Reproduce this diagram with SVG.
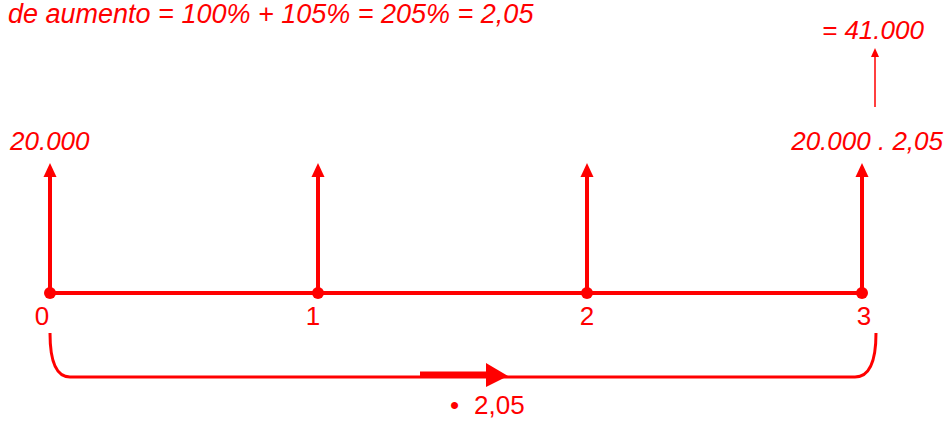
<svg xmlns="http://www.w3.org/2000/svg" width="945" height="421" viewBox="0 0 945 421">
<style>
.t{font-family:"Liberation Sans",Arial,sans-serif;font-size:26px;fill:#ff0000}
.i{font-style:italic}
.ln{stroke:#ff0000;stroke-width:4;fill:none}
.thin{stroke:#ff0000;stroke-width:1.5;fill:none}
.hd{fill:#ff0000}
</style>
<rect width="945" height="421" fill="#ffffff"/>
<g id="title"><text class="t i" x="8" y="23" style="font-size:27px">de aumento = 100% + 105% = 205% = 2,05</text></g>
<g id="connectors">
<line class="ln" x1="50" y1="293" x2="862" y2="293"/>
<line class="ln" x1="50" y1="293" x2="50" y2="174"/>
<polygon class="hd" points="50,163 43.5,177 56.5,177"/>
<line class="ln" x1="318" y1="293" x2="318" y2="174"/>
<polygon class="hd" points="318,163 311.5,177 324.5,177"/>
<line class="ln" x1="587" y1="293" x2="587" y2="174"/>
<polygon class="hd" points="587,163 580.5,177 593.5,177"/>
<line class="ln" x1="862" y1="293" x2="862" y2="174"/>
<polygon class="hd" points="862,163 855.5,177 868.5,177"/>
<line class="thin" x1="875" y1="107" x2="875" y2="55"/>
<polygon class="hd" points="875,48 871,57 879,57"/>
<path class="thin" style="stroke-width:3" d="M50,333 C50,360 55,377 70,377 L855,377 C870,377 876,360 876,333"/>
<line class="ln" style="stroke-width:5" x1="420" y1="374" x2="490" y2="374"/>
<polygon class="hd" points="486,363 508,376 486,387"/>
</g>
<g id="n0"><circle class="hd" cx="50" cy="293" r="6"/><text class="t" x="42" y="325" text-anchor="middle">0</text><text class="t i" x="10" y="150">20.000</text></g>
<g id="n1"><circle class="hd" cx="318" cy="293" r="6"/><text class="t" x="313" y="325" text-anchor="middle">1</text></g>
<g id="n2"><circle class="hd" cx="587" cy="293" r="6"/><text class="t" x="587" y="325" text-anchor="middle">2</text></g>
<g id="n3"><circle class="hd" cx="862" cy="293" r="6"/><text class="t" x="864" y="325" text-anchor="middle">3</text><text class="t i" x="943" y="150" text-anchor="end">20.000 . 2,05</text><text class="t i" x="822" y="39">= 41.000</text></g>
<g id="factor"><text class="t" x="450" y="414">•<tspan x="474">2,05</tspan></text></g>
</svg>
